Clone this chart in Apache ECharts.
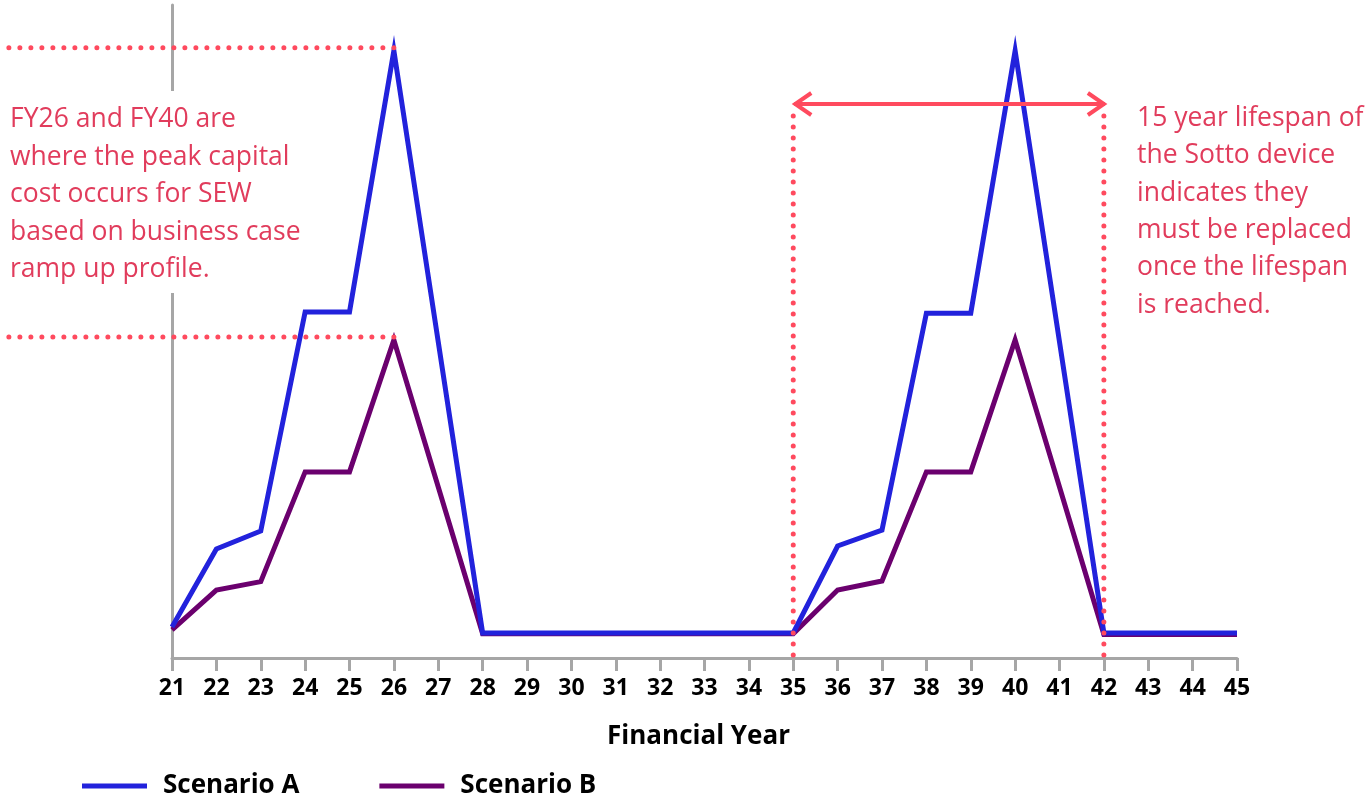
<!DOCTYPE html>
<html>
<head>
<meta charset="utf-8">
<script src="https://cdn.jsdelivr.net/npm/echarts@6/dist/echarts.min.js"></script>
<style>
  html, body { margin: 0; padding: 0; background: #ffffff; }
  #chart { width: 1371px; height: 796px; }
</style>
</head>
<body>
<div id="chart"></div>
<script>
// ---- data (arbitrary cost units) ----
const years = ['21','22','23','24','25','26','27','28','29','30','31','32','33','34','35','36','37','38','39','40','41','42','43','44','45'];
const scenarioA = [4.75, 16.7, 19.45, 53.0, 53.0, 93.0, 48.4, 3.83, 3.83, 3.83, 3.83, 3.83, 3.83, 3.83, 3.83, 17.15, 19.6, 52.8, 52.8, 93.0, 48.4, 3.83, 3.83, 3.83, 3.83];
const scenarioB = [4.3, 10.4, 11.7, 28.5, 28.5, 48.7, 26.2, 3.7, 3.7, 3.7, 3.7, 3.7, 3.7, 3.7, 3.7, 10.4, 11.8, 28.5, 28.5, 48.7, 26.2, 3.6, 3.6, 3.6, 3.6];
const seriesNames = ['Scenario A', 'Scenario B'];
const xAxisTitle = 'Financial Year';
const peakYears = ['26', '40'];
const lifespanYears = ['35', '42'];
const leftNote = ['FY26 and FY40 are', 'where the peak capital', 'cost occurs for SEW', 'based on business case', 'ramp up profile.'];
const rightNote = ['15 year lifespan of', 'the Sotto device', 'indicates they', 'must be replaced', 'once the lifespan', 'is reached.'];

const FONT = '"Open Sans", "Noto Sans", sans-serif';
const BLUE = '#2222DC';
const PURPLE = '#6B006E';
const RED = '#FF4A5E';
const NOTE = '#E13C5C';
const AXIS = '#A6A6A6';

const chart = echarts.init(document.getElementById('chart'), null, { renderer: 'canvas' });

const option = {
  animation: false,
  backgroundColor: '#ffffff',
  grid: { left: 172, right: 134, top: 5, bottom: 138, containLabel: false },
  xAxis: {
    type: 'category',
    data: years,
    boundaryGap: false,
    axisLine: { show: true, lineStyle: { color: AXIS, width: 3 } },
    axisTick: { show: true, alignWithLabel: true, length: 13, lineStyle: { color: AXIS, width: 3 } },
    axisLabel: { color: '#000', fontFamily: FONT, fontWeight: 'bold', fontSize: 23, margin: 19, interval: 0 },
    name: xAxisTitle,
    nameLocation: 'middle',
    nameGap: 66,
    nameTextStyle: { color: '#000', fontFamily: FONT, fontWeight: 'bold', fontSize: 26, padding: [0, 12, 0, 0] },
    splitLine: { show: false }
  },
  yAxis: {
    type: 'value',
    min: 0,
    max: 100,
    axisLine: { show: true, lineStyle: { color: AXIS, width: 3 } },
    axisTick: { show: false },
    axisLabel: { show: false },
    splitLine: { show: false }
  },
  legend: {
    left: 82,
    top: 773,
    padding: 0,
    icon: 'rect',
    itemWidth: 65,
    itemHeight: 5,
    itemGap: 80,
    data: seriesNames,
    textStyle: { color: '#000', fontFamily: FONT, fontWeight: 'bold', fontSize: 26, padding: [0, 0, 0, 11] }
  },
  series: [
    {
      name: seriesNames[1],
      type: 'line',
      data: scenarioB,
      symbol: 'none',
      z: 3,
      lineStyle: { color: PURPLE, width: 5, join: 'miter' },
      itemStyle: { color: PURPLE }
    },
    {
      name: seriesNames[0],
      type: 'line',
      data: scenarioA,
      symbol: 'none',
      z: 4,
      lineStyle: { color: BLUE, width: 5, join: 'miter' },
      itemStyle: { color: BLUE }
    }
  ]
};
chart.setOption(option);

// ---- annotations positioned through the chart's own scales ----
function px(cat, val) {
  return chart.convertToPixel({ gridIndex: 0 }, [years.indexOf(cat), val]);
}
const dotted = { stroke: RED, lineWidth: 5, lineDash: [0, 11], lineCap: 'round' };
const graphics = [];

// white box behind the left note (interrupts the y axis line)
graphics.push({ type: 'rect', z: 50, shape: { x: 0, y: 91, width: 318, height: 202 }, style: { fill: '#ffffff' } });

// horizontal dotted guides to the FY26 peaks
const iPeak = years.indexOf(peakYears[0]);
[scenarioA[iPeak], scenarioB[iPeak]].forEach(v => {
  const p = px(peakYears[0], v);
  graphics.push({ type: 'line', z: 60, shape: { x1: p[0], y1: p[1] - 3, x2: 4, y2: p[1] - 3 }, style: dotted });
});

// vertical dotted lifespan markers
const yTop = 104;
const yBase = px(years[0], 0)[1];
const pStart = px(lifespanYears[0], 0);
const pEnd = px(lifespanYears[1], 0);
[pStart, pEnd].forEach(p => {
  graphics.push({ type: 'line', z: 60, shape: { x1: p[0], y1: yBase - 3, x2: p[0], y2: yTop + 10 }, style: dotted });
});

// double-headed arrow
const arrowStyle = { stroke: RED, lineWidth: 4, fill: null, lineJoin: 'miter' };
graphics.push({ type: 'line', z: 61, shape: { x1: pStart[0] + 1, y1: yTop, x2: pEnd[0] + 1, y2: yTop }, style: arrowStyle });
graphics.push({ type: 'polyline', z: 61, shape: { points: [[pStart[0] + 18, yTop - 11], [pStart[0] + 2, yTop], [pStart[0] + 18, yTop + 11]] }, style: arrowStyle });
graphics.push({ type: 'polyline', z: 61, shape: { points: [[pEnd[0] - 16, yTop - 11], [pEnd[0], yTop], [pEnd[0] - 16, yTop + 11]] }, style: arrowStyle });

// notes
graphics.push({
  type: 'text', z: 70, x: 10, y: 101,
  style: { text: leftNote.join('\n'), fill: NOTE, font: '26.5px ' + FONT, lineHeight: 37.5, textVerticalAlign: 'top' }
});
graphics.push({
  type: 'text', z: 70, x: 1137, y: 100,
  style: { text: rightNote.join('\n'), fill: NOTE, font: '26.5px ' + FONT, lineHeight: 37.3, textVerticalAlign: 'top' }
});

chart.setOption({ graphic: { elements: graphics } });
</script>
</body>
</html>
